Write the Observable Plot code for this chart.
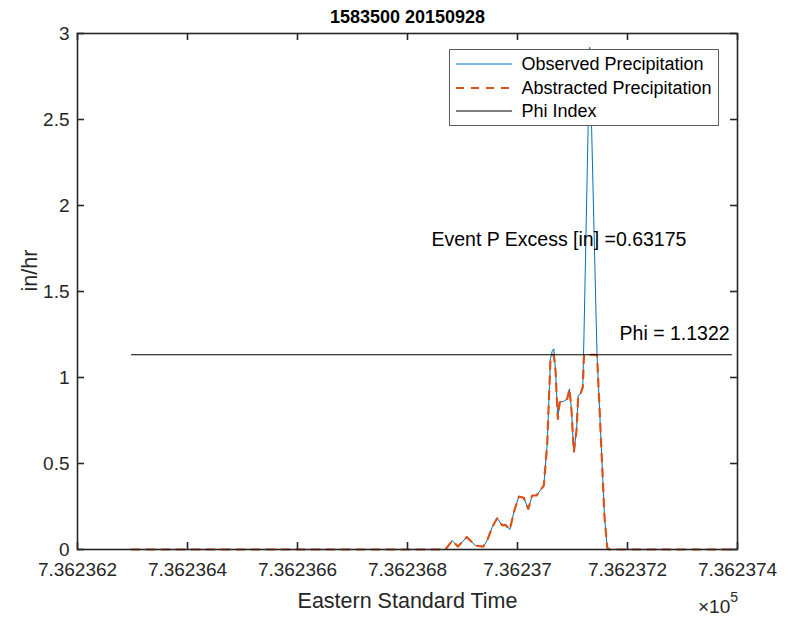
<!DOCTYPE html>
<html><head><meta charset="utf-8">
<script src="https://cdn.jsdelivr.net/npm/d3@7"></script>
<script src="https://cdn.jsdelivr.net/npm/@observablehq/plot@0.6"></script>
<style>
body{margin:0;background:#fff;}
#wrap{position:relative;width:788px;height:617px;}
</style></head><body><div id="wrap"></div>
<script>
// ---- data (MATLAB datenum, in/hr) ----
const times = [
  736236.2982, 736236.8691, 736236.8813, 736236.8915, 736236.9078, 736236.9236,
  736236.9376, 736236.9449, 736236.9540, 736236.9631, 736236.9722, 736236.9782,
  736236.9860, 736236.9933, 736237.0024, 736237.0115, 736237.0195, 736237.0267,
  736237.0345, 736237.0478, 736237.0540, 736237.0600, 736237.0631, 736237.0660,
  736237.0691, 736237.0733, 736237.0769, 736237.0842, 736237.0904, 736237.0945,
  736237.0982, 736237.1024, 736237.1073, 736237.1104, 736237.1145, 736237.1187,
  736237.1209, 736237.1313, 736237.1425, 736237.1447, 736237.1538, 736237.1582,
  736237.1631, 736237.1660, 736237.3909
];
const observed = [
  0, 0, 0.052, 0.017, 0.072, 0.023,
  0.017, 0.052, 0.130, 0.182, 0.140, 0.143,
  0.116, 0.217, 0.308, 0.300, 0.236, 0.314,
  0.314, 0.372, 0.614, 1.109, 1.153, 1.167,
  1.041, 0.760, 0.857, 0.862, 0.876, 0.934,
  0.808, 0.566, 0.692, 0.895, 0.905, 0.944,
  1.250, 2.920, 1.400, 1.128, 0.498, 0.188,
  0.013, 0, 0
];
const abstracted = [
  0, 0, 0.052, 0.017, 0.072, 0.023,
  0.017, 0.052, 0.130, 0.182, 0.140, 0.143,
  0.116, 0.217, 0.308, 0.300, 0.236, 0.314,
  0.314, 0.372, 0.614, 1.109, 1.1322, 1.1322,
  1.041, 0.760, 0.857, 0.862, 0.876, 0.934,
  0.808, 0.566, 0.692, 0.895, 0.905, 0.944,
  1.1322, 1.1322, 1.1322, 1.128, 0.498, 0.188,
  0.013, 0, 0
];
const phiIndex = 1.1322;
const xTicks = [736236.2, 736236.4, 736236.6, 736236.8, 736237.0, 736237.2, 736237.4];
const xTickLabels = ["7.362362","7.362364","7.362366","7.362368","7.36237","7.362372","7.362374"];
const yTicks = [0, 0.5, 1, 1.5, 2, 2.5, 3];
const yTickLabels = ["0","0.5","1","1.5","2","2.5","3"];
const titleText = "1583500 20150928";
const xLabel = "Eastern Standard Time";
const yLabel = "in/hr";
const seriesNames = ["Observed Precipitation", "Abstracted Precipitation", "Phi Index"];
const excessText = "Event P Excess [in] =0.63175";
const excessPos = [736236.8436, 1.8];
const phiText = "Phi = 1.1322";
const phiPos = [736237.1855, 1.2522];

// ---- layout / style ----
const FONT = "'Liberation Sans', Arial, Helvetica, sans-serif";
const W = 788, H = 617, ML = 77, MR = 51, MT = 33, MB = 68;
const FW = W - ML - MR, FH = H - MT - MB, TL = 7;
const AX = "#262626", BLUE = "#0072BD", ORANGE = "#D95319";

const rows = times.map((t, i) => ({t, obs: observed[i], abs: abstracted[i]}));
const fmtX = d => xTickLabels[xTicks.findIndex(t => Math.abs(t - d) < 1e-6)];
const fmtY = d => yTickLabels[yTicks.findIndex(t => Math.abs(t - d) < 1e-9)];

const chart = Plot.plot({
  width: W, height: H,
  marginLeft: ML, marginRight: MR, marginTop: MT, marginBottom: MB,
  style: {fontFamily: FONT, background: "#fff", overflow: "visible"},
  x: {domain: [xTicks[0], xTicks[xTicks.length - 1]]},
  y: {domain: [yTicks[0], yTicks[yTicks.length - 1]]},
  marks: [
    Plot.lineY(rows, {x: "t", y: "obs", stroke: BLUE, strokeWidth: 1}),
    Plot.lineY(rows, {x: "t", y: "abs", stroke: ORANGE, strokeWidth: 2.2, strokeDasharray: "8,7"}),
    Plot.ruleY([phiIndex], {x1: times[0], x2: times[times.length - 1], stroke: "#000", strokeWidth: 1}),
    Plot.frame({stroke: AX, strokeWidth: 1.6}),
    Plot.ruleX(xTicks, {stroke: AX, strokeWidth: 1.6, insetTop: FH - TL}),
    Plot.ruleX(xTicks, {stroke: AX, strokeWidth: 1.6, insetBottom: FH - TL}),
    Plot.ruleY(yTicks, {stroke: AX, strokeWidth: 1.6, insetRight: FW - TL}),
    Plot.ruleY(yTicks, {stroke: AX, strokeWidth: 1.6, insetLeft: FW - TL}),
    Plot.axisX({ticks: xTicks, tickSize: 0, tickPadding: 13, fontSize: 19, tickFormat: fmtX, label: null, color: AX}),
    Plot.axisY({ticks: yTicks, tickSize: 0, tickPadding: 8, fontSize: 19, tickFormat: fmtY, label: null, color: AX}),
    Plot.text([titleText], {text: d => d, frameAnchor: "top", dy: -16, lineAnchor: "middle", fontSize: 18, fontWeight: "bold", fill: "#000"}),
    Plot.text([xLabel], {text: d => d, frameAnchor: "bottom", dy: 52, lineAnchor: "middle", fontSize: 21.5, fill: AX}),
    Plot.text([yLabel], {text: d => d, frameAnchor: "left", dx: -47, rotate: -90, lineAnchor: "middle", fontSize: 21.5, fill: AX}),
    Plot.text([excessText], {text: d => d, x: () => excessPos[0], y: () => excessPos[1], textAnchor: "start", lineAnchor: "middle", fontSize: 19.5, fill: "#000"}),
    Plot.text([phiText], {text: d => d, x: () => phiPos[0], y: () => phiPos[1], textAnchor: "start", lineAnchor: "middle", fontSize: 19.5, fill: "#000"})
  ]
});
document.getElementById("wrap").appendChild(chart);

// ---- exponent label and legend ----
const svg = d3.select(chart);
const ex = svg.append("text").attr("x", W - MR + 1).attr("y", 613)
  .attr("text-anchor", "end").attr("fill", AX).style("font-family", FONT).style("font-size", "19px");
ex.append("tspan").text("\u00d710");
ex.append("tspan").attr("dy", -11).style("font-size", "14px").text("5");

const lg = svg.append("g").style("font-family", FONT).attr("text-anchor", "start");
lg.append("rect").attr("x", 449.5).attr("y", 49.5).attr("width", 269).attr("height", 76)
  .attr("fill", "#fff").attr("stroke", "#5a5a5a").attr("stroke-width", 1);
const rowsY = [64, 88, 111];
const styles = [
  {stroke: BLUE, w: 1, dash: null},
  {stroke: ORANGE, w: 2.2, dash: "8,7"},
  {stroke: "#000", w: 1, dash: null}
];
seriesNames.forEach((name, i) => {
  const l = lg.append("line").attr("x1", 456).attr("x2", 512).attr("y1", rowsY[i]).attr("y2", rowsY[i])
    .attr("stroke", styles[i].stroke).attr("stroke-width", styles[i].w);
  if (styles[i].dash) l.attr("stroke-dasharray", styles[i].dash);
  lg.append("text").attr("x", 521.5).attr("y", rowsY[i]).attr("dy", "0.35em")
    .attr("text-anchor", "start")
    .attr("fill", "#000").style("font-size", "18px").text(name);
});
</script>
</body></html>
